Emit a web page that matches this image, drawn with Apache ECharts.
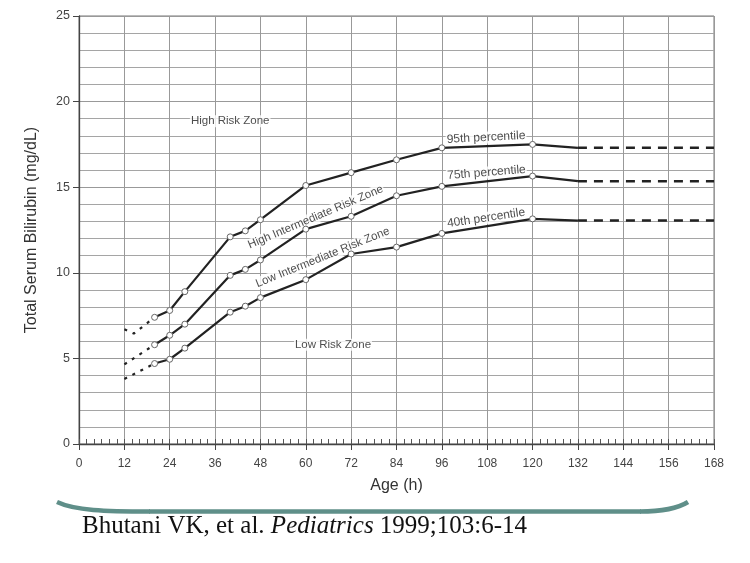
<!DOCTYPE html>
<html>
<head>
<meta charset="utf-8">
<script src="https://cdn.jsdelivr.net/npm/echarts@6/dist/echarts.min.js"></script>
<style>
  html, body { margin: 0; padding: 0; background: #fff; }
  #chart { width: 750px; height: 563px; }
</style>
</head>
<body>
<div id="chart"></div>
<script>
// hours with plotted points (solid part)
var hours = [20, 24, 28, 40, 44, 48, 60, 72, 84, 96, 120, 132];
var p95 = [7.4, 7.8, 8.9, 12.1, 12.45, 13.1, 15.1, 15.85, 16.6, 17.3, 17.5, 17.3];
var p75 = [5.8, 6.35, 7.0, 9.85, 10.2, 10.75, 12.55, 13.3, 14.5, 15.05, 15.65, 15.35];
var p40 = [4.7, 4.95, 5.6, 7.7, 8.05, 8.55, 9.6, 11.1, 11.5, 12.3, 13.15, 13.05];

// dotted lead-in before 20 h
var lead95Hours = [12, 14.5, 20];
var lead95 = [6.7, 6.45, 7.4];
var leadHours = [12, 20];
var lead75 = [4.65, 5.8];
var lead40 = [3.8, 4.7];

// dashed extension after 132 h
var tailHours = [132, 168];
var tail95 = [17.3, 17.3];
var tail75 = [15.35, 15.35];
var tail40 = [13.05, 13.05];

// zone / percentile annotations: [hour, mg/dL, text, angle, size]
var notes = [
    [40, 18.85, 'High Risk Zone', 0, 11.5],
    [62.6, 13.25, 'High Intermediate Risk Zone', 23, 11.5],
    [64.5, 10.9, 'Low Intermediate Risk Zone', 22, 11.5],
    [67.2, 5.8, 'Low Risk Zone', 0, 11.5],
    [107.7, 17.9, '95th percentile', 3, 12],
    [107.8, 15.85, '75th percentile', 4.5, 12],
    [107.7, 13.2, '40th percentile', 8.5, 12]
];

var xTicks = [0, 12, 24, 36, 48, 60, 72, 84, 96, 108, 120, 132, 144, 156, 168];
var yTicks = [0, 5, 10, 15, 20, 25];

var FONT = '"Liberation Sans", Arial, sans-serif';
var SERIF = '"Liberation Serif", "Times New Roman", serif';
var LINE = '#222';
var TEAL = '#5f8f89';

function pairs(xs, ys) {
    return xs.map(function (x, i) { return [x, ys[i]]; });
}

function solidData(vals) {
    return hours.map(function (h, i) {
        // last point (132 h) has no marker
        if (i === hours.length - 1) {
            return { value: [h, vals[i]], symbol: 'none' };
        }
        return [h, vals[i]];
    });
}

function solidSeries(name, vals) {
    return {
        name: name,
        type: 'line',
        data: solidData(vals),
        symbol: 'circle',
        symbolSize: 6,
        showAllSymbol: true,
        lineStyle: { color: LINE, width: 2.2 },
        itemStyle: { color: '#fff', borderColor: '#666', borderWidth: 1 },
        z: 5,
        silent: true
    };
}

function plainSeries(name, data, dash, width) {
    return {
        name: name,
        type: 'line',
        data: data,
        symbol: 'none',
        lineStyle: { color: LINE, width: width, type: dash },
        z: 4,
        silent: true
    };
}

var myChart = echarts.init(document.getElementById('chart'));

var option = {
    backgroundColor: '#fff',
    animation: false,
    grid: {
        left: 79, right: 36, top: 16, bottom: 119,
        show: true,
        borderColor: '#777',
        borderWidth: 1
    },
    xAxis: [
        {
            type: 'value',
            min: 0, max: 168, interval: 12,
            name: 'Age (h)',
            nameLocation: 'middle',
            nameGap: 34,
            nameTextStyle: { fontFamily: FONT, fontSize: 16, color: '#333' },
            axisLine: { onZero: false, lineStyle: { color: '#444', width: 1.3 } },
            axisTick: { show: true, length: 6, lineStyle: { color: '#444' } },
            axisLabel: {
                margin: 14, fontFamily: FONT, fontSize: 12, color: '#444',
                formatter: function (v) { return xTicks.indexOf(v) >= 0 ? String(v) : ''; }
            },
            splitLine: { show: true, lineStyle: { color: '#999', width: 1 } }
        },
        {
            // minor 2-hour ticks pointing into the plot
            type: 'value',
            position: 'bottom',
            min: 0, max: 168, interval: 2,
            axisLine: { show: false, onZero: false },
            axisTick: { show: true, inside: true, length: 5, lineStyle: { color: '#555' } },
            axisLabel: { show: false },
            splitLine: { show: false }
        }
    ],
    yAxis: {
        type: 'value',
        min: 0, max: 25, interval: 5,
        name: 'Total Serum Bilirubin (mg/dL)',
        nameLocation: 'middle',
        nameGap: 39,
        nameTextStyle: { fontFamily: FONT, fontSize: 16, color: '#333' },
        axisLine: { show: true, lineStyle: { color: '#444', width: 1.3 } },
        axisTick: { show: true, length: 6, lineStyle: { color: '#444' } },
        axisLabel: {
            margin: 9, fontFamily: FONT, fontSize: 12.5, color: '#444',
            formatter: function (v) { return yTicks.indexOf(v) >= 0 ? String(v) : ''; }
        },
        splitLine: { show: true, lineStyle: { color: '#999', width: 1 } },
        minorTick: { show: false, splitNumber: 5 },
        minorSplitLine: { show: true, lineStyle: { color: '#a5a5a5', width: 1 } }
    },
    series: [
        solidSeries('95th', p95),
        solidSeries('75th', p75),
        solidSeries('40th', p40),
        plainSeries('95th lead', pairs(lead95Hours, lead95), [3, 6], 2.2),
        plainSeries('75th lead', pairs(leadHours, lead75), [3, 6], 2.2),
        plainSeries('40th lead', pairs(leadHours, lead40), [3, 6], 2.2),
        plainSeries('95th tail', pairs(tailHours, tail95), [9, 7], 2.5),
        plainSeries('75th tail', pairs(tailHours, tail75), [9, 7], 2.5),
        plainSeries('40th tail', pairs(tailHours, tail40), [9, 7], 2.5),
        {
            name: 'notes',
            type: 'scatter',
            symbolSize: 0,
            silent: true,
            z: 3,
            data: notes.map(function (n) {
                return {
                    value: [n[0], n[1]],
                    label: {
                        show: true,
                        position: 'inside',
                        formatter: n[2],
                        rotate: n[3],
                        fontFamily: FONT,
                        fontSize: n[4],
                        color: '#222',
                        backgroundColor: '#fff',
                        padding: [0, 1]
                    }
                };
            })
        }
    ],
    graphic: [
        {
            type: 'bezierCurve',
            silent: true,
            shape: { x1: 57, y1: 502, cpx1: 75, cpy1: 510.5, cpx2: 105, cpy2: 511.5, x2: 150, y2: 511.5 },
            style: { stroke: TEAL, lineWidth: 4.5, fill: null }
        },
        {
            type: 'line',
            silent: true,
            shape: { x1: 149, y1: 511.5, x2: 641, y2: 511.5 },
            style: { stroke: TEAL, lineWidth: 4.5 }
        },
        {
            type: 'bezierCurve',
            silent: true,
            shape: { x1: 640, y1: 511.5, cpx1: 668, cpy1: 511.5, cpx2: 680, cpy2: 507, x2: 688, y2: 502 },
            style: { stroke: TEAL, lineWidth: 4.5, fill: null }
        },
        {
            type: 'text',
            silent: true,
            left: 82,
            top: 514,
            style: {
                text: '{n|Bhutani VK, et al. }{i|Pediatrics}{n| 1999;103:6-14}',
                rich: {
                    n: { fontFamily: SERIF, fontSize: 25, fill: '#111' },
                    i: { fontFamily: SERIF, fontSize: 25, fontStyle: 'italic', fill: '#111' }
                }
            }
        }
    ]
};

myChart.setOption(option);
</script>
</body>
</html>
